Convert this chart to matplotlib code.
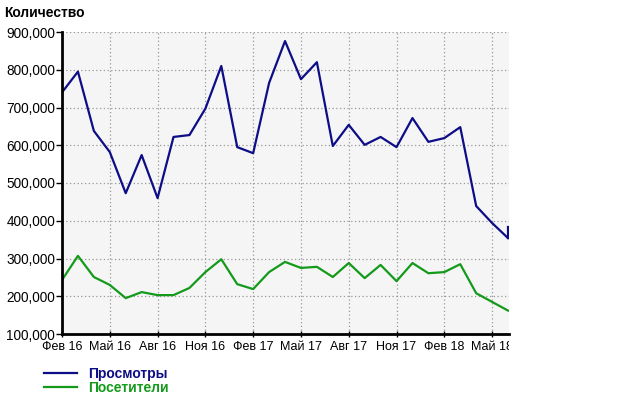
import matplotlib
matplotlib.use("Agg")
import matplotlib.pyplot as plt
from matplotlib.ticker import FuncFormatter
from matplotlib.transforms import Bbox, TransformedBbox

plt.rcParams["font.family"] = ["Liberation Sans", "DejaVu Sans"]

# monthly data, Feb 2016 .. Jun 2018 (month index 0..28)
months = list(range(29))
views = [740000, 795000, 638000, 582000, 473000, 574000, 460000, 622000, 627000, 697000,
         810000, 595000, 579000, 765000, 876000, 775000, 820000, 598000, 654000, 601000,
         622000, 595000, 672000, 609000, 619000, 648000, 439000, 394000, 354000]
visitors = [243000, 307000, 251000, 230000, 195000, 211000, 203000, 203000, 222000, 264000,
            298000, 232000, 219000, 264000, 291000, 275000, 278000, 251000, 288000, 248000,
            283000, 240000, 288000, 261000, 264000, 285000, 208000, 185000, 162000]
# partial last point for views (start of next month)
views_tail_x = [28, 28]
views_tail = [354000, 383000]

tick_pos = [0, 3, 6, 9, 12, 15, 18, 21, 24, 27]
tick_labels = ["Фев 16", "Май 16", "Авг 16", "Ноя 16", "Фев 17", "Май 17",
               "Авг 17", "Ноя 17", "Фев 18", "Май 18"]

blue = "#0d0d86"
green = "#149a1a"

fig = plt.figure(figsize=(6.2, 3.95), dpi=100)
ax = fig.add_axes([62/620, 61/395, 447/620, 302/395])
ax.set_facecolor("#f5f5f5")

l1, = ax.plot(months, views, color=blue, lw=1.6, label="Просмотры")
ax.plot(views_tail_x, views_tail, color=blue, lw=1.6)
l2, = ax.plot(months, visitors, color=green, lw=1.6, label="Посетители")

ax.set_xlim(0, 28.06)
ax.set_ylim(100000, 900000)
ax.set_yticks(range(100000, 900001, 100000))
ax.yaxis.set_major_formatter(FuncFormatter(lambda v, p: f"{int(v):,}"))
ax.set_xticks(tick_pos)
ax.set_xticklabels(tick_labels)

for s in ["top", "right"]:
    ax.spines[s].set_visible(False)
for s in ["left", "bottom"]:
    ax.spines[s].set_linewidth(2)
ax.tick_params(axis="y", length=4, width=1, labelsize=9.8, pad=1)
ax.tick_params(axis="x", length=4, width=1, labelsize=9, pad=3, direction="inout")
ax.grid(True, color="#999999", linestyle=(0, (1, 2)), linewidth=0.9)
ax.set_axisbelow(True)

# clip the last x label at the plot's right edge
clip = TransformedBbox(Bbox([[0, 0], [509/620, 1]]), fig.transFigure)
last = ax.get_xticklabels()[-1]
last.set_clip_on(True)
last.set_clip_box(clip)

fig.text(4/620, 1 - 13/395, "Количество", fontsize=10, fontweight="bold", va="center")

leg = fig.legend(handles=[l1, l2], loc="upper left", bbox_to_anchor=(34/620, 1 - 357/395),
                 frameon=False, fontsize=10, handlelength=2.4, handletextpad=0.8,
                 labelspacing=0.0, borderpad=0.2)
for t, c in zip(leg.get_texts(), [blue, green]):
    t.set_color(c)
    t.set_fontweight("bold")

fig.savefig("out.png", dpi=100)
